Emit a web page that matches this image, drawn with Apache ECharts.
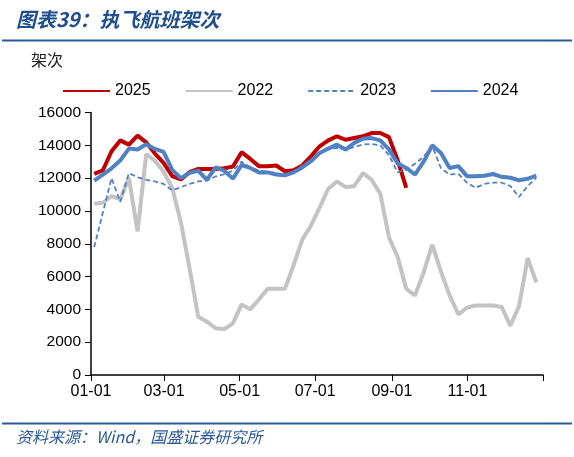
<!DOCTYPE html>
<html>
<head>
<meta charset="utf-8">
<script src="https://cdn.jsdelivr.net/npm/echarts@6/dist/echarts.min.js"></script>
<style>
  html, body { margin: 0; padding: 0; background: #fff; }
  #chart { width: 574px; height: 457px; }
</style>
</head>
<body>
<div id="chart"></div>
<script>
// one point per week, first one around 01-03 (day of year)
const firstDay = 2.6;

const s2025 = [12260, 12480, 13640, 14300, 14040, 14590, 14180, 13500, 12930, 12120,
  11920, 12360, 12560, 12560, 12560, 12600, 12700, 13580, 13170, 12730,
  12730, 12770, 12420, 12480, 12770, 13330, 13940, 14300, 14550, 14340,
  14450, 14550, 14750, 14750, 14500, 13100, 11410];

const s2022 = [10440, 10500, 10900, 10700, 12020, 8750, 13470, 13050, 12400, 11400,
  9300, 6500, 3550, 3250, 2850, 2800, 3150, 4300, 4000, 4600,
  5250, 5250, 5250, 6700, 8250, 9100, 10200, 11350, 11800, 11450,
  11520, 12300, 11900, 11050, 8400, 7200, 5250, 4850, 6250, 7950,
  6300, 4850, 3700, 4100, 4240, 4240, 4240, 4150, 3000, 4180,
  7130, 5650];

const s2023 = [7800, 9900, 12000, 10550, 12300, 12050, 11900, 11800, 11650, 11250,
  11450, 11650, 11800, 11850, 12100, 12250, 12450, 13000, 12650, 12450,
  12400, 12300, 12200, 12400, 12750, 13130, 13500, 13750, 13840, 13740,
  13900, 14050, 14080, 14000, 13400, 12350, 12520, 12870, 13300, 13950,
  12600, 12220, 12260, 11720, 11410, 11650, 11720, 11720, 11520, 10850,
  11520, 12020];

const s2024 = [11850, 12220, 12600, 13070, 13800, 13740, 14060, 13780, 13600, 12500,
  12000, 12320, 12450, 11900, 12650, 12450, 11970, 12800, 12620, 12350,
  12350, 12220, 12170, 12350, 12650, 13030, 13530, 13800, 14040, 13740,
  14150, 14400, 14440, 14300, 13750, 12900, 12620, 12220, 13000, 14000,
  13530, 12620, 12730, 12120, 12120, 12150, 12250, 12080, 12020, 11870,
  11960, 12160];

const monthTicks = [0, 59, 120, 181, 243, 304, 365];
const monthLabels = ['01-01', '03-01', '05-01', '07-01', '09-01', '11-01'];

const blue = '#4f81c4';

function toPairs(arr) {
  return arr.map((v, i) => [firstDay + 7 * i, v]);
}

function lineSeries(name, arr, color, width, type) {
  return {
    name: name,
    type: 'line',
    data: toPairs(arr),
    symbol: 'none',
    smooth: false,
    lineStyle: { color: color, width: width, type: type || 'solid' },
    itemStyle: { color: color }
  };
}

const chart = echarts.init(document.getElementById('chart'));

chart.setOption({
  animation: false,
  textStyle: { fontFamily: '"Liberation Sans", Arial, sans-serif' },
  grid: { left: 91, right: 31, top: 112.5, bottom: 82 },
  legend: {
    left: 57,
    top: 78,
    itemWidth: 47,
    itemHeight: 14,
    itemGap: 34,
    itemStyle: { opacity: 0 },
    textStyle: { fontSize: 16, color: '#000' },
    data: ['2025', '2022', '2023', '2024']
  },
  xAxis: {
    type: 'value',
    min: 0,
    max: 365,
    splitLine: { show: false },
    axisLine: { lineStyle: { color: '#000', width: 1.5 } },
    axisTick: { customValues: monthTicks, length: 6, lineStyle: { color: '#000' } },
    axisLabel: {
      customValues: monthTicks.slice(0, 6),
      fontSize: 16,
      color: '#000',
      margin: 9,
      formatter: v => monthLabels[monthTicks.indexOf(v)]
    }
  },
  yAxis: {
    type: 'value',
    min: 0,
    max: 16000,
    interval: 2000,
    splitLine: { show: false },
    axisLine: { show: true, lineStyle: { color: '#000', width: 1.5 } },
    axisTick: { show: true, length: 6, lineStyle: { color: '#000' } },
    axisLabel: { fontSize: 15.5, color: '#000', margin: 10, formatter: v => String(v) }
  },
  series: [
    lineSeries('2025', s2025, '#c00000', 4),
    lineSeries('2022', s2022, '#c3c3c3', 4),
    lineSeries('2023', s2023, blue, 1.8, [5, 3]),
    lineSeries('2024', s2024, blue, 4)
  ],
  graphic: [
    {
      type: 'text', left: 16, top: 9,
      style: {
        text: '图表39：执飞航班架次',
        font: 'italic bold 20px "Noto Sans CJK SC", sans-serif',
        fill: '#1f4e8f'
      }
    },
    { type: 'rect', shape: { x: 2, y: 39.5, width: 570, height: 2 }, style: { fill: '#2a5a9a' } },
    {
      type: 'text', left: 31, top: 52,
      style: { text: '架次', font: '16px "Noto Sans CJK SC", sans-serif', fill: '#222' }
    },
    { type: 'rect', shape: { x: 2, y: 422.5, width: 570, height: 2 }, style: { fill: '#2a5a9a' } },
    {
      type: 'text', left: 16, top: 429,
      style: {
        text: '资料来源：Wind，国盛证券研究所',
        font: 'italic 16px "Noto Sans CJK SC", sans-serif',
        fill: '#2a5a9a'
      }
    }
  ]
});
</script>
</body>
</html>
